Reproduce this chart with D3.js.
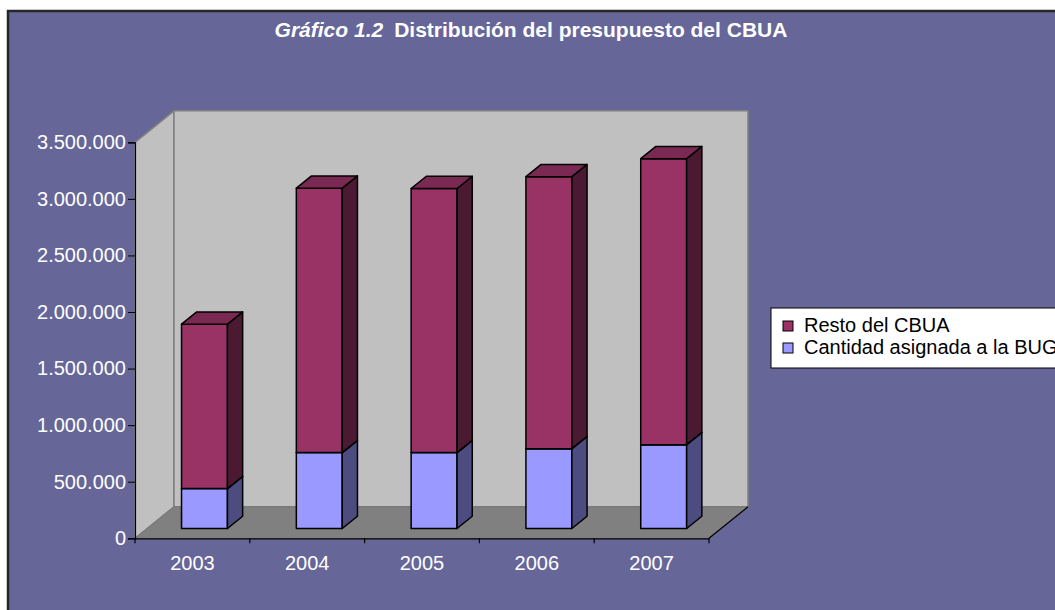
<!DOCTYPE html>
<html>
<head>
<meta charset="utf-8">
<script src="https://cdn.jsdelivr.net/npm/d3@7"></script>
<style>
  body { margin: 0; background: #fff; }
  svg { display: block; font-family: "Liberation Sans", Arial, sans-serif; }
</style>
</head>
<body>
<div id="chart"></div>
<script>
// data
const years = ['2003', '2004', '2005', '2006', '2007'];
const bugValues = [353000, 671000, 671000, 706000, 741000];      // Cantidad asignada a la BUG
const restoValues = [1453000, 2337000, 2334000, 2404000, 2528000]; // Resto del CBUA
const yTicks = [0, 500000, 1000000, 1500000, 2000000, 2500000, 3000000, 3500000];
const seriesNames = ['Resto del CBUA', 'Cantidad asignada a la BUG'];

const W = 1055, H = 610;
const DX = 39, DY = 31.5;     // full depth of the 3d box
const Z0 = 0.31, Z1 = 0.70;   // bar position inside the depth

const svg = d3.select('#chart').append('svg')
  .attr('width', W).attr('height', H);

// chart area
svg.append('rect')
  .attr('x', 8).attr('y', 11)
  .attr('width', W + 20).attr('height', H + 20)
  .attr('fill', '#666699')
  .attr('stroke', '#262626')
  .attr('stroke-width', 2.5);

// title
const title = svg.append('text')
  .attr('x', 531).attr('y', 37)
  .attr('text-anchor', 'middle')
  .attr('fill', '#fff')
  .attr('font-size', 21)
  .attr('font-weight', 'bold');
title.append('tspan').attr('font-style', 'italic').text('Gráfico 1.2');
title.append('tspan').attr('dx', 11).text('Distribución del presupuesto del CBUA');

const x = d3.scaleBand().domain(years).range([135, 709])
  .paddingInner(0.6).paddingOuter(0.3);
const y = d3.scaleLinear().domain([0, 3500000]).range([538.3, 142.3]);

const p = (px, py, z) => [px + z * DX, py - z * DY];
const poly = pts => 'M' + pts.map(d => d.join(',')).join('L') + 'Z';

const x0 = x.range()[0], x1 = x.range()[1];
const yb = y(0), yt = y(3500000);

const walls = svg.append('g');
// left wall
walls.append('path')
  .attr('d', poly([p(x0, yb, 0), p(x0, yt, 0), p(x0, yt, 1), p(x0, yb, 1)]))
  .attr('fill', '#c0c0c0').attr('stroke', '#808080').attr('stroke-width', 1.5);
// back wall
walls.append('path')
  .attr('d', poly([p(x0, yb, 1), p(x0, yt, 1), p(x1, yt, 1), p(x1, yb, 1)]))
  .attr('fill', '#c0c0c0').attr('stroke', '#808080').attr('stroke-width', 1.5);
// floor
walls.append('path')
  .attr('d', poly([p(x0, yb, 0), p(x0, yb, 1), p(x1, yb, 1), p(x1, yb, 0)]))
  .attr('fill', '#808080').attr('stroke', '#777').attr('stroke-width', 1);
// floor right edge
walls.append('line')
  .attr('x1', p(x1, yb, 0)[0]).attr('y1', p(x1, yb, 0)[1])
  .attr('x2', p(x1, yb, 1)[0]).attr('y2', p(x1, yb, 1)[1])
  .attr('stroke', '#000').attr('stroke-width', 1.2);

// bars
const series = [
  { name: seriesNames[1], values: bugValues, front: '#9999ff', side: '#4c4c80', top: '#7a7acc' },
  { name: seriesNames[0], values: restoValues, front: '#993366', side: '#4c1933', top: '#7a2952' }
];
const stacked = years.map((yr, i) => {
  let base = 0;
  return series.map(s => {
    const seg = { year: yr, s, v0: base, v1: base + s.values[i] };
    base = seg.v1;
    return seg;
  });
});

const bars = svg.append('g');
stacked.forEach(segs => {
  segs.forEach(seg => {
    const l = x(seg.year), r = l + x.bandwidth();
    const b = y(seg.v0), t = y(seg.v1);
    const g = bars.append('g')
      .attr('stroke', '#000').attr('stroke-width', 1.5).attr('stroke-linejoin', 'round');
    g.append('path').attr('fill', seg.s.front)
      .attr('d', poly([p(l, b, Z0), p(l, t, Z0), p(r, t, Z0), p(r, b, Z0)]));
    g.append('path').attr('fill', seg.s.side)
      .attr('d', poly([p(r, b, Z0), p(r, t, Z0), p(r, t, Z1), p(r, b, Z1)]));
    g.append('path').attr('fill', seg.s.top)
      .attr('d', poly([p(l, t, Z0), p(l, t, Z1), p(r, t, Z1), p(r, t, Z0)]));
  });
});

// value axis
const esLocale = d3.formatLocale({ decimal: ',', thousands: '.', grouping: [3], currency: ['', ''] });
const yAxis = svg.append('g')
  .attr('transform', `translate(${x0},0)`)
  .call(d3.axisLeft(y).tickValues(yTicks).tickFormat(esLocale.format(',d')).tickSize(7).tickPadding(2));
yAxis.select('.domain').attr('stroke', '#000').attr('stroke-width', 1.2);
yAxis.selectAll('.tick line').attr('stroke', '#000');
yAxis.selectAll('.tick text')
  .attr('fill', '#fff').attr('font-size', 20)
  .attr('font-family', '"Liberation Sans", Arial, sans-serif');

// category axis
const xCat = d3.scaleBand().domain(years).range([x0, x1]);
const xAxis = svg.append('g')
  .attr('transform', `translate(0,${yb})`)
  .call(d3.axisBottom(xCat).tickSize(0).tickPadding(18));
xAxis.select('.domain').attr('stroke', '#000').attr('stroke-width', 1.2);
xAxis.selectAll('.tick text')
  .attr('fill', '#fff').attr('font-size', 20)
  .attr('font-family', '"Liberation Sans", Arial, sans-serif');
xAxis.selectAll('.sep')
  .data(d3.range(years.length + 1))
  .join('line')
  .attr('class', 'sep')
  .attr('x1', i => x0 + i * xCat.step()).attr('x2', i => x0 + i * xCat.step())
  .attr('y1', 0).attr('y2', 5)
  .attr('stroke', '#000').attr('stroke-width', 1.2);

// legend
const legend = svg.append('g').attr('transform', 'translate(771,308)');
legend.append('rect')
  .attr('width', 320).attr('height', 60)
  .attr('fill', '#fff').attr('stroke', '#000').attr('stroke-width', 1);
const legendItems = [series[1], series[0]];
legendItems.forEach((s, i) => {
  const row = legend.append('g').attr('transform', `translate(12,${13 + i * 22})`);
  row.append('rect').attr('width', 10).attr('height', 10)
    .attr('fill', s.front).attr('stroke', '#000').attr('stroke-width', 1);
  row.append('text').attr('x', 21).attr('y', 11)
    .attr('font-size', 20).attr('fill', '#000')
    .text(s.name);
});
</script>
</body>
</html>
